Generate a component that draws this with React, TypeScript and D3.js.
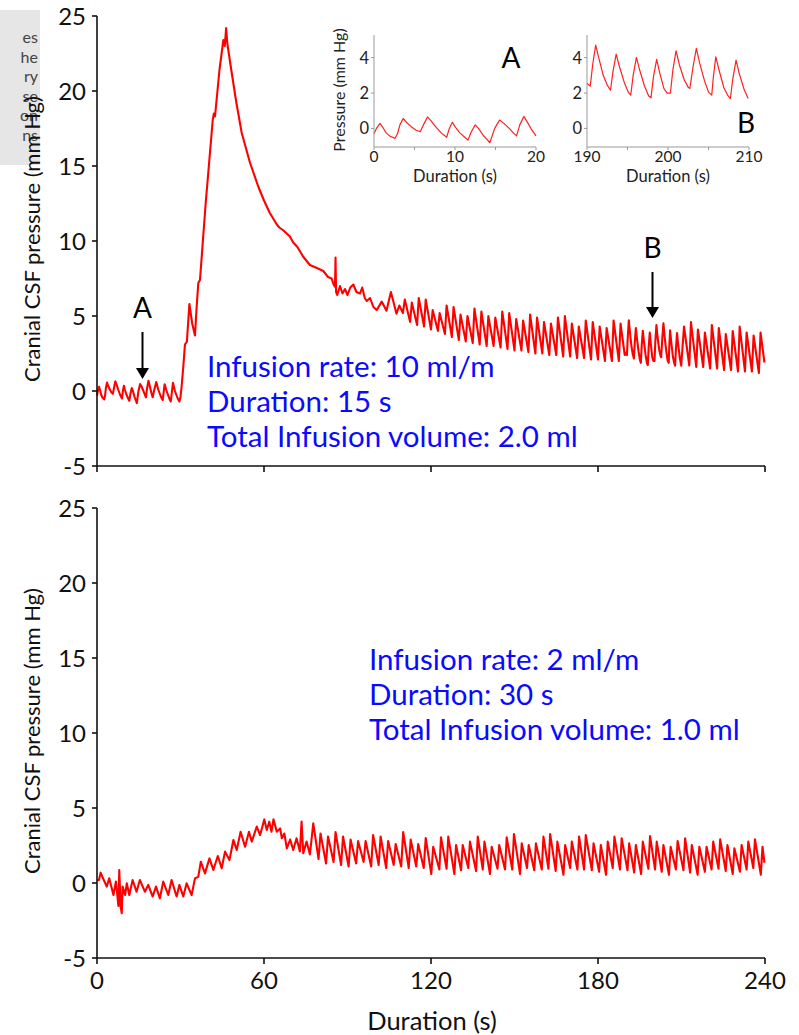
import React from "react";
import * as d3 from "d3";

type Pt = [number, number];

// ---- axis ticks ----
const mainTicksX = [0, 60, 120, 180, 240];
const mainTicksY = [-5, 0, 5, 10, 15, 20, 25];
const insetTicksY = [0, 2, 4];
const insetATicks = [0, 10, 20];
const insetAMinor = [5, 15];
const insetBTicks = [190, 200, 210];
const insetBMinor = [195, 205];

// ---- inset A: first 20 s (baseline) ----
const insetA: Pt[] = [
  [0, -0.3], [0.3, 0.0], [0.74, 0.28], [1.1, 0.05], [1.5, -0.25], [2.0, -0.45], [2.3, -0.5], [2.6, -0.56],
  [2.9, -0.3], [3.2, 0.2], [3.6, 0.56], [4.0, 0.35], [4.6, 0.1], [5.2, -0.1], [5.7, -0.19], [6.1, 0.2],
  [6.6, 0.65], [7.0, 0.45], [7.6, 0.1], [8.3, -0.25], [8.97, -0.5], [9.3, 0.0], [9.67, 0.35], [10.0, 0.1],
  [10.6, -0.25], [11.2, -0.5], [11.6, -0.66], [12.0, -0.2], [12.5, 0.2], [12.9, 0.0], [13.5, -0.4], [14.0, -0.65],
  [14.3, -0.81], [14.9, 0.0], [15.5, 0.47], [16.0, 0.3], [16.7, 0.0], [17.2, -0.25], [17.6, -0.42], [18.0, 0.2],
  [18.5, 0.68], [19.0, 0.3], [19.5, -0.1], [20, -0.42],
];

// ---- inset B: 190-210 s ----
const insetB: Pt[] = [
  [190.0, 2.54], [190.4, 2.39], [190.7, 3.6], [191.07, 4.71], [191.5, 3.9], [192.0, 3.0], [192.5, 2.45], [192.9, 2.16],
  [193.2, 3.2], [193.6, 4.2], [194.0, 3.5], [194.6, 2.6], [195.1, 2.05], [195.4, 1.88], [195.7, 3.0], [196.1, 4.01],
  [196.5, 3.3], [197.1, 2.4], [197.6, 1.85], [197.9, 1.73], [198.2, 2.9], [198.6, 3.9], [199.0, 3.1], [199.5, 2.25],
  [199.9, 2.0], [200.3, 2.0], [200.6, 3.3], [200.99, 4.39], [201.4, 3.6], [202.0, 2.75], [202.5, 2.32], [202.7, 2.26],
  [203.1, 3.5], [203.5, 4.52], [203.9, 3.7], [204.5, 2.7], [205.0, 2.05], [205.4, 1.88], [205.6, 2.9], [205.9, 4.05],
  [206.3, 3.3], [206.9, 2.3], [207.4, 1.85], [207.7, 1.69], [208.0, 2.8], [208.4, 3.86], [208.8, 3.1], [209.4, 2.2],
  [209.9, 1.69],
];

// ---- top trace: 10 ml/m infusion ----
const topBaseline: Pt[] = [
  [20.6, 0.1], [21.3, 0.6], [22.0, 0.1], [23.0, -0.4], [23.6, -0.6], [24.3, 0.45], [25.0, 0.0], [26.0, -0.5],
  [26.5, -0.7], [27.3, 0.55], [28.0, 0.0], [29.0, -0.5], [29.6, -0.7], [30.0, -0.4],
];
const topSurge: Pt[] = [
  [30.4, 0.3], [31.0, 1.6], [31.6, 3.1], [32.3, 3.3], [33.2, 5.8], [34.2, 4.5], [35.2, 3.7], [35.8, 5.6],
  [36.4, 7.2], [37.0, 7.4], [39.0, 12.4], [41.6, 18.1], [42.0, 18.5], [42.4, 18.3], [44.0, 21.4], [45.4, 23.4],
  [45.9, 23.0], [46.4, 24.2], [46.8, 23.2], [48.0, 21.7], [50.0, 19.3], [52.0, 17.2], [55.0, 15.2], [58.0, 13.6],
  [60.0, 12.7], [62.0, 11.9], [64.6, 11.1], [65.5, 10.9], [67.0, 10.7], [69.3, 10.3], [70.5, 9.9], [72.0, 9.6],
  [74.1, 8.95], [76.5, 8.4], [79.0, 8.2], [81.3, 8.0], [83.0, 7.6], [84.3, 7.5], [85.0, 7.1], [85.5, 6.95],
  [85.7, 8.9], [85.9, 6.6], [86.3, 6.4],
];
const topSettle: Pt[] = [
  [87.3, 7.0], [88.2, 6.5], [89.1, 6.8], [90.0, 6.4], [91.0, 6.9], [92.1, 7.1], [93.2, 6.6], [94.5, 6.5],
  [95.3, 6.9], [96.2, 6.2], [96.9, 6.0], [98.1, 6.2], [99.3, 5.6], [100.5, 5.4], [102.3, 5.96], [104.0, 5.35],
  [105.6, 6.6], [107.6, 5.15], [108.6, 5.7], [109.9, 5.2],
];
const topWaves: Pt[] = [
  [110.6, 6.1], [112.5, 4.6], [113.1, 5.9], [115.0, 4.4], [115.6, 6.2], [117.5, 4.3], [118.1, 6.1], [120.0, 4.1],
  [120.6, 5.4], [122.5, 4.0], [123.1, 5.2], [125.0, 3.8], [125.6, 5.7], [127.5, 3.6], [128.1, 5.6], [130.0, 3.4],
  [130.6, 5.1], [132.5, 3.3], [133.1, 5.0], [135.0, 3.2], [135.6, 5.5], [137.5, 3.1], [138.1, 5.3], [140.0, 3.0],
  [140.6, 5.0], [142.5, 3.0], [143.1, 4.9], [145.0, 2.9], [145.6, 5.3], [147.5, 2.8], [148.1, 5.2], [150.0, 2.7],
  [150.6, 4.8], [152.5, 2.7], [153.1, 4.7], [155.0, 2.6], [155.6, 5.1], [157.5, 2.5], [158.1, 4.9], [160.0, 2.5],
  [160.6, 4.6], [162.5, 2.4], [163.1, 4.5], [165.0, 2.4], [165.6, 4.9], [167.5, 2.3], [168.1, 5.0], [170.0, 2.3],
  [170.6, 4.5], [172.5, 2.2], [173.1, 4.3], [175.0, 2.2], [175.6, 4.7], [177.5, 2.1], [178.1, 4.6], [180.0, 2.1],
  [180.6, 4.3], [182.5, 2.0], [183.1, 4.2], [185.0, 2.0], [185.6, 4.7], [187.5, 2.0], [188.1, 4.5], [189.6, 2.4],
];
const topWavesEnd: Pt[] = [
  [210.9, 4.3], [212.8, 1.7], [213.4, 4.6], [215.3, 1.6], [215.9, 4.1], [217.8, 1.6], [218.4, 3.9], [220.3, 1.5],
  [220.9, 4.4], [222.8, 1.5], [223.4, 4.2], [225.3, 1.4], [225.9, 3.8], [227.8, 1.4], [228.4, 4.0], [230.3, 1.3],
  [230.9, 4.3], [232.8, 1.3], [233.4, 3.9], [235.3, 1.3], [235.9, 3.7], [237.8, 1.2], [238.4, 3.9], [239.8, 1.9],
];

// ---- bottom trace: 2 ml/m infusion ----
const botStart: Pt[] = [
  [0, 0.2], [0.7, 0.2], [1.3, 0.69], [2.2, 0.3], [3.5, -0.24], [4.4, 0.31], [5.9, -0.8], [6.8, 0.1],
  [7.7, -1.53], [8.0, 0.87], [8.5, -1.58], [8.9, -2.02], [9.2, -0.24], [10.1, -0.8], [10.7, -0.02], [11.6, -0.8],
  [12.8, 0.2], [14.2, -0.58], [15.4, 0.2], [17.2, -0.58], [18.4, -0.13], [20.0, -0.9], [21.2, -0.24], [22.6, -1.02],
  [23.8, 0.09], [25.6, -0.8], [26.8, 0.2], [28.6, -0.9], [29.6, -0.13], [31.0, -0.9], [32.2, -0.02], [34.0, -0.8],
];
const botRise: Pt[] = [
  [35.2, 0.31], [36.4, 0.42], [37.3, 1.42], [38.8, 0.64], [40.4, 1.64], [41.8, 0.87], [43.4, 1.8], [44.8, 0.98],
  [46.0, 2.09], [47.6, 1.53], [49.0, 2.87], [50.2, 2.2], [51.6, 3.42], [53.2, 2.42], [54.6, 3.42], [55.6, 2.76],
  [57.4, 3.76], [58.6, 3.2], [60.1, 4.24], [61.0, 3.53], [61.9, 4.09], [62.7, 3.42], [63.4, 4.24], [64.6, 3.42],
  [65.8, 3.64], [66.4, 2.98],
];
const botMid: Pt[] = [
  [67.3, 3.3], [68.2, 2.31], [69.4, 2.9], [70.5, 2.2], [71.7, 2.98], [72.9, 2.1], [73.5, 4.09], [74.1, 1.98],
  [75.3, 2.76], [76.5, 1.9], [77.7, 3.98], [79.6, 1.6], [80.3, 3.3], [82.3, 1.3], [83.0, 3.1], [85.0, 1.4],
  [85.7, 3.4], [87.7, 1.2], [88.4, 3.1], [90.4, 1.1], [91.1, 2.9], [93.1, 1.3], [93.8, 2.8], [95.8, 1.4],
  [96.5, 2.8], [98.5, 1.1], [99.2, 3.2], [101.2, 1.2], [101.9, 3.1], [103.9, 1.0], [104.6, 2.8], [106.6, 1.2],
  [107.3, 2.6], [109.3, 1.1], [110.0, 3.4], [112.0, 1.0], [112.7, 2.9], [114.7, 1.1], [115.4, 2.6], [117.4, 1.0],
  [118.1, 3.0], [120.1, 0.6],
];
const botEnd: Pt[] = [
  [120.8, 2.42], [123.0, 0.9], [123.6, 3.04], [125.6, 0.95], [126.2, 3.09], [128.4, 0.6], [129.0, 2.53], [130.8, 0.85],
  [131.4, 2.53], [133.4, 1.0], [134.0, 2.76], [136.2, 0.8], [136.8, 3.09], [138.6, 0.9], [139.2, 2.76], [141.2, 0.6],
  [141.8, 2.42], [143.9, 0.95], [144.5, 2.53], [146.6, 0.9], [147.2, 3.04], [149.2, 0.9], [149.8, 3.27], [152.0, 0.6],
  [152.6, 2.64], [154.5, 1.0], [155.1, 2.53], [157.1, 0.85], [157.7, 2.64], [159.8, 0.9], [160.4, 3.09], [162.2, 0.95],
  [162.8, 3.27], [164.8, 0.8], [165.4, 2.76], [167.6, 0.55], [168.2, 2.53], [170.0, 1.0], [170.6, 2.76], [172.6, 0.9],
  [173.2, 3.09], [175.0, 0.9], [175.6, 3.2], [177.8, 0.85], [178.4, 2.64], [180.4, 0.75], [181.0, 2.53], [182.9, 0.55],
  [183.5, 2.76], [185.3, 1.0], [185.9, 3.09], [187.9, 0.9], [188.5, 2.98], [190.6, 0.85], [191.2, 2.64], [193.0, 0.7],
  [193.6, 2.53], [195.5, 0.6], [196.1, 2.76], [198.1, 0.95], [198.7, 3.13], [200.5, 0.9], [201.1, 2.76], [202.9, 0.75],
  [203.5, 2.53], [205.5, 0.55], [206.1, 2.42], [208.0, 0.9], [208.6, 2.8], [210.7, 0.85], [211.3, 2.98], [213.1, 0.7],
  [213.7, 2.53], [215.8, 0.55], [216.4, 2.42], [218.4, 0.75], [219.0, 2.42], [220.8, 0.9], [221.4, 2.76], [223.3, 0.95],
  [223.9, 2.91], [225.9, 0.8], [226.5, 2.53], [228.4, 0.6], [229.0, 2.31], [231.0, 0.75], [231.6, 2.53], [233.4, 0.9],
  [234.0, 2.76], [235.8, 1.0], [236.4, 2.91], [238.5, 0.55], [239.1, 2.42], [239.8, 1.35],
];

const topTrace: Pt[] = [...insetA, ...topBaseline, ...topSurge, ...topSettle, ...topWaves, ...insetB, ...topWavesEnd];
const bottomTrace: Pt[] = [...botStart, ...botRise, ...botMid, ...botEnd];

const topNotes = ["Infusion rate: 10 ml/m", "Duration: 15 s", "Total Infusion volume: 2.0 ml"];
const bottomNotes = ["Infusion rate: 2 ml/m", "Duration: 30 s", "Total Infusion volume: 1.0 ml"];
const sideText = ["es", "he", "ry", "se", "on", "ns"];

const FONT = "Lato, 'Open Sans', sans-serif";
const RED = "#ff0000";
const BLUE = "#0a0aff";

const x = d3.scaleLinear().domain([0, 240]).range([97, 765]);
const yTop = d3.scaleLinear().domain([-5, 25]).range([466, 16]);
const yBot = d3.scaleLinear().domain([-5, 25]).range([958, 508]);
const xA = d3.scaleLinear().domain([0, 20]).range([374, 536]);
const xB = d3.scaleLinear().domain([190, 210]).range([587, 749]);
const yIn = d3.scaleLinear().domain([-1.05, 5.28]).range([147, 35]);

function tracePath(data: Pt[], sx: d3.ScaleLinear<number, number>, sy: d3.ScaleLinear<number, number>) {
  return d3.line<Pt>().x(d => sx(d[0])).y(d => sy(d[1]))(data) || "";
}

function MainPanel({ y, data, labels, notes, notesX, notesY }: any) {
  const [y0, y1] = y.range();
  const mid = (y0 + y1) / 2;
  return (
    <g>
      <path d={tracePath(data, x, y)} fill="none" stroke={RED} strokeWidth={2.1} strokeLinejoin="round" />
      <line x1={x(0)} x2={x(0)} y1={y1} y2={y0} stroke="#111" strokeWidth={1.6} />
      <line x1={x(0)} x2={x(240)} y1={y0} y2={y0} stroke="#111" strokeWidth={1.6} />
      {mainTicksY.map(t => (
        <g key={t}>
          <line x1={x(0) - 5} x2={x(0)} y1={y(t)} y2={y(t)} stroke="#111" strokeWidth={1.6} />
          <text x={86} y={y(t)} dy="0.36em" textAnchor="end" fontSize={24} fontFamily={FONT} fill="#111">{t}</text>
        </g>
      ))}
      {mainTicksX.map(t => (
        <g key={t}>
          <line x1={x(t)} x2={x(t)} y1={y0} y2={y0 + 6} stroke="#111" strokeWidth={1.6} />
          {labels && (
            <text x={x(t)} y={y0 + 31} textAnchor="middle" fontSize={24} fontFamily={FONT} fill="#111">{t}</text>
          )}
        </g>
      ))}
      <text transform={`translate(40,${mid - 2}) rotate(-90)`} textAnchor="middle" fontSize={22} fontFamily={FONT} fill="#111">
        Cranial CSF pressure (mm Hg)
      </text>
      {notes.map((s: string, i: number) => (
        <text key={s} x={notesX} y={notesY + i * 35} fontSize={29.5} fontFamily={FONT} fill={BLUE}>{s}</text>
      ))}
    </g>
  );
}

function Inset({ sx, data, ticks, minor, letter, lx, ly, title }: any) {
  const [xa, xb] = sx.range();
  return (
    <g>
      <path d={tracePath(data, sx, yIn)} fill="none" stroke="#ff2020" strokeWidth={1.2} strokeLinejoin="round" />
      <line x1={xa} x2={xa} y1={35} y2={147} stroke="#999" strokeWidth={1} />
      <line x1={xa} x2={xb} y1={147} y2={147} stroke="#999" strokeWidth={1} />
      {insetTicksY.map(t => (
        <g key={t}>
          <line x1={xa - 3} x2={xa} y1={yIn(t)} y2={yIn(t)} stroke="#999" />
          <text x={xa - 5} y={yIn(t)} dy="0.36em" textAnchor="end" fontSize={16.5} fontFamily={FONT} fill="#222">{t}</text>
        </g>
      ))}
      {[...ticks, ...minor].map((t: number) => (
        <line key={t} x1={sx(t)} x2={sx(t)} y1={147} y2={150} stroke="#999" />
      ))}
      {ticks.map((t: number) => (
        <text key={t} x={sx(t)} y={162} textAnchor="middle" fontSize={15.5} fontFamily={FONT} fill="#222">{t}</text>
      ))}
      <text x={(xa + xb) / 2} y={182} textAnchor="middle" fontSize={16.5} fontFamily={FONT} fill="#222">Duration (s)</text>
      {title && (
        <text transform={`translate(345,90) rotate(-90)`} textAnchor="middle" fontSize={16} fontFamily={FONT} fill="#222">Pressure (mm Hg)</text>
      )}
      <text x={lx} y={ly} textAnchor="middle" fontSize={28} fontFamily={FONT} fill="#000">{letter}</text>
    </g>
  );
}

function Marker({ cx, top, bottom, letter }: any) {
  return (
    <g>
      <text x={cx} y={top - 14} textAnchor="middle" fontSize={28} fontFamily={FONT} fill="#000">{letter}</text>
      <line x1={cx} x2={cx} y1={top} y2={bottom - 8} stroke="#000" strokeWidth={2} />
      <path d={`M${cx - 6.5},${bottom - 11} L${cx + 6.5},${bottom - 11} L${cx},${bottom} Z`} fill="#000" />
    </g>
  );
}

export default function App() {
  return (
    <svg width={799} height={1035} style={{ position: "absolute", left: 0, top: 0, background: "#fff" }}>
      <rect x={0} y={10} width={40} height={155} fill="#e6e6e6" />
      {sideText.map((s, i) => (
        <text key={s} x={38} y={43 + i * 19.5} textAnchor="end" fontSize={16} fontFamily={FONT} fill="#444">{s}</text>
      ))}

      <MainPanel y={yTop} data={topTrace} labels={false} notes={topNotes} notesX={207} notesY={377} />
      <MainPanel y={yBot} data={bottomTrace} labels={true} notes={bottomNotes} notesX={369} notesY={670} />

      <text x={432} y={1030} textAnchor="middle" fontSize={25.5} fontFamily={FONT} fill="#111">Duration (s)</text>

      <Marker cx={142.5} top={332} bottom={379} letter="A" />
      <Marker cx={652.5} top={272} bottom={318} letter="B" />

      <Inset sx={xA} data={insetA} ticks={insetATicks} minor={insetAMinor} letter="A" lx={511} ly={68} title={true} />
      <Inset sx={xB} data={insetB} ticks={insetBTicks} minor={insetBMinor} letter="B" lx={746} ly={133} title={false} />
    </svg>
  );
}
